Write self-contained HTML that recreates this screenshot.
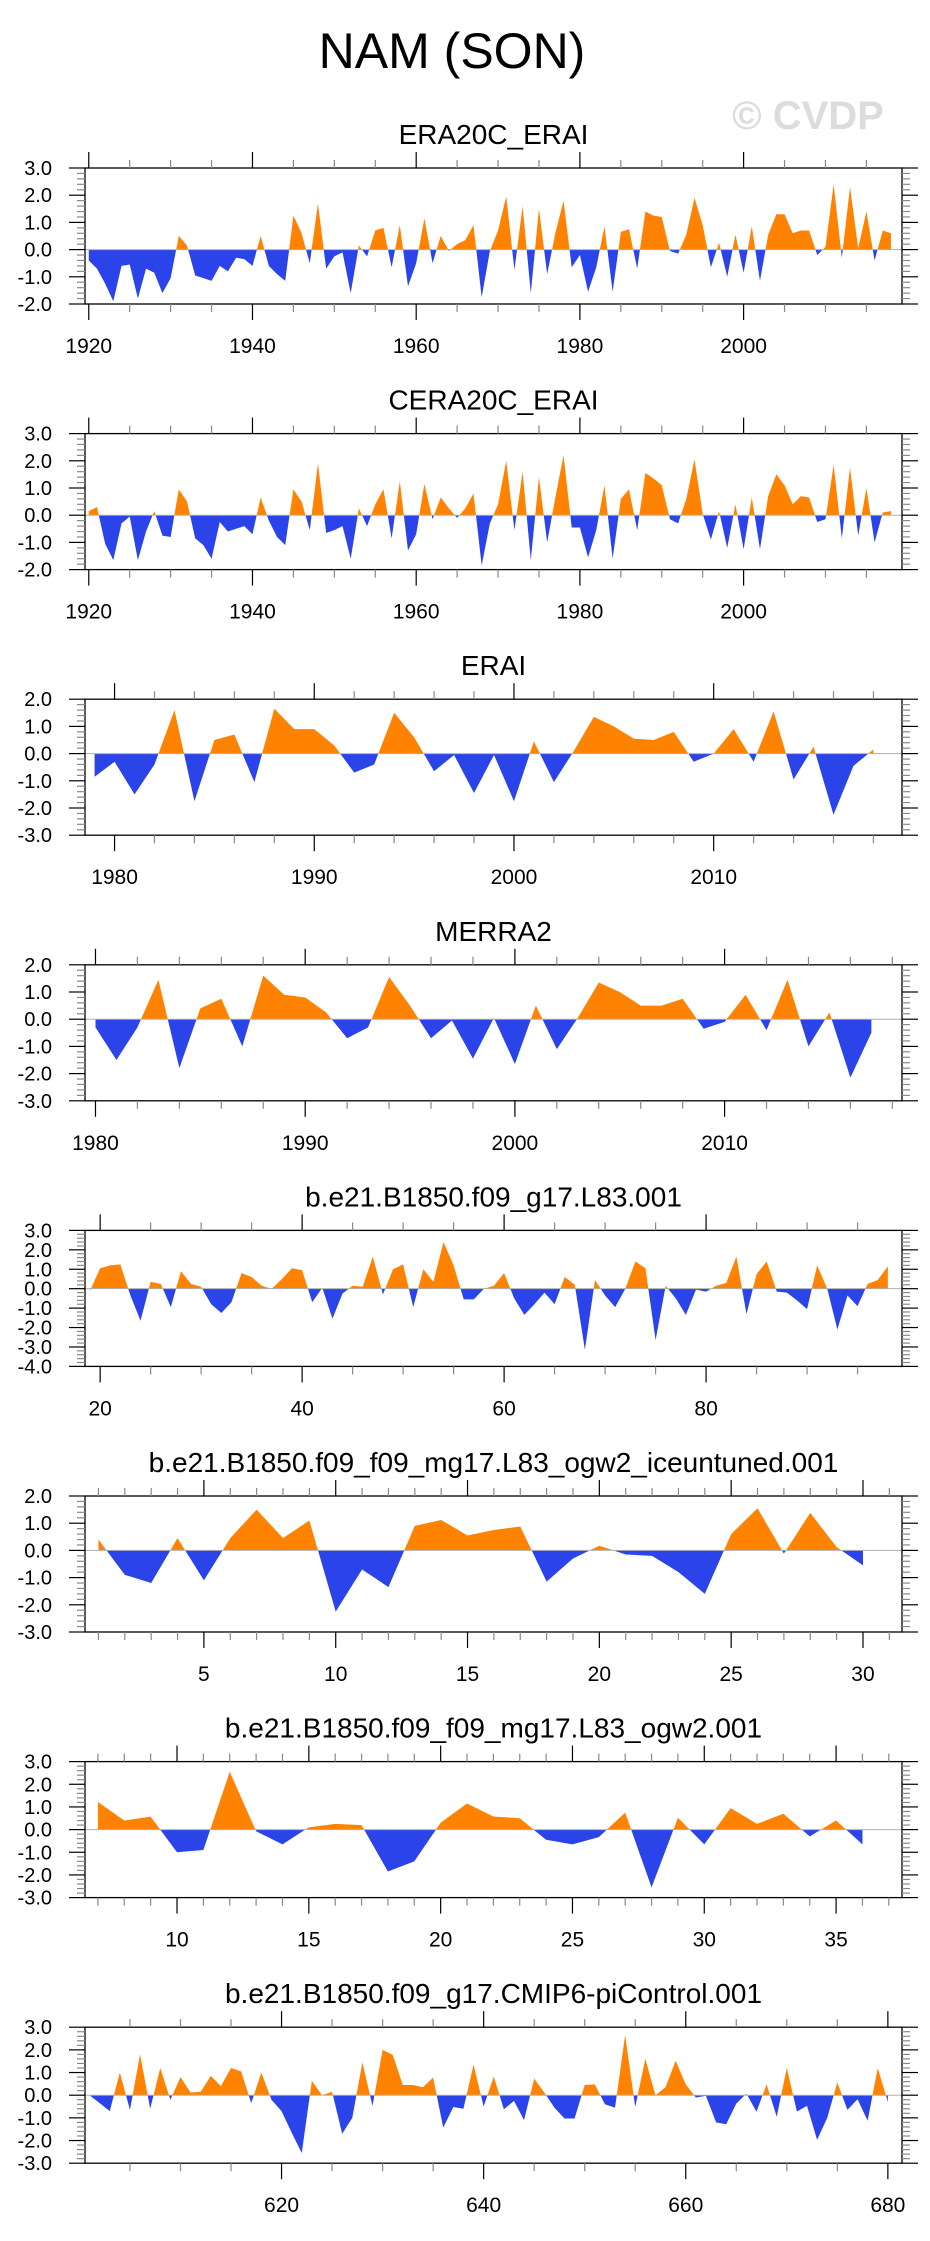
<!DOCTYPE html>
<html><head><meta charset="utf-8"><title>NAM (SON)</title>
<style>
html,body{margin:0;padding:0;background:#fff;}
svg{display:block;font-family:"Liberation Sans",Arial,sans-serif;}
</style></head>
<body>
<svg id="fig" width="930" height="2241" viewBox="0 0 930 2241" xmlns="http://www.w3.org/2000/svg">
<text x="452" y="68" font-size="50" text-anchor="middle" fill="#000">NAM (SON)</text>
<text x="808" y="129" font-size="40" font-weight="bold" text-anchor="middle" fill="#dcdcdc">© CVDP</text>
</svg>
<script>
// ---- data ----
const era20cYears = [1920, 2018];
const era20cValues = [-0.4,-0.7,-1.25,-1.9,-0.6,-0.55,-1.8,-0.7,-0.85,-1.6,-1.05,0.5,0.15,-0.95,-1.05,-1.15,-0.6,-0.8,-0.3,-0.35,-0.6,0.5,-0.6,-0.9,-1.15,1.25,0.6,-0.5,1.7,-0.7,-0.25,-0.1,-1.6,0.15,-0.25,0.7,0.8,-0.65,0.9,-1.35,-0.5,1.15,-0.5,0.5,-0.05,0.2,0.35,0.9,-1.75,-0.05,0.7,1.95,-0.75,1.6,-1.6,1.5,-0.9,0.6,1.8,-0.65,-0.2,-1.55,-0.65,0.85,-1.55,0.65,0.75,-0.7,1.4,1.25,1.2,-0.05,-0.15,0.55,1.9,0.9,-0.65,0.25,-1.0,0.55,-0.85,0.85,-1.15,0.55,1.3,1.3,0.6,0.7,0.7,-0.2,0.1,2.4,-0.3,2.3,0.05,1.4,-0.4,0.7,0.6];
const cera20cYears = [1920, 2018];
const cera20cValues = [0.15,0.3,-1.05,-1.65,-0.3,-0.05,-1.65,-0.6,0.15,-0.75,-0.8,0.95,0.5,-0.85,-1.1,-1.6,-0.25,-0.6,-0.5,-0.4,-0.7,0.65,-0.2,-0.8,-1.1,0.95,0.5,-0.55,1.9,-0.65,-0.55,-0.4,-1.6,0.25,-0.4,0.4,0.95,-0.85,1.25,-1.3,-0.7,1.15,-0.15,0.65,0.25,-0.1,0.25,0.8,-1.85,-0.3,0.4,2.0,-0.55,1.6,-1.65,1.4,-1.0,0.65,2.2,-0.45,-0.45,-1.55,-0.55,1.1,-1.6,0.6,0.95,-0.55,1.55,1.35,1.1,-0.15,-0.3,0.6,2.05,0.05,-0.9,0.15,-1.2,0.4,-1.25,0.65,-1.25,0.7,1.5,1.1,0.4,0.7,0.65,-0.25,-0.15,1.85,-0.85,1.75,-0.75,1.0,-1.0,0.1,0.15];
const eraiYears = [1979, 2018];
const eraiValues = [-0.85,-0.3,-1.5,-0.4,1.6,-1.75,0.5,0.7,-1.05,1.65,0.9,0.9,0.3,-0.7,-0.4,1.5,0.6,-0.65,-0.05,-1.45,-0.05,-1.75,0.45,-1.05,0.1,1.35,1.0,0.55,0.5,0.8,-0.3,0.0,0.9,-0.3,1.55,-0.95,0.25,-2.25,-0.45,0.15];
const merra2Years = [1980, 2017];
const merra2Values = [-0.3,-1.5,-0.3,1.45,-1.8,0.4,0.75,-1.0,1.6,0.9,0.8,0.25,-0.7,-0.3,1.55,0.5,-0.7,-0.05,-1.45,0.05,-1.65,0.5,-1.1,0.05,1.35,1.0,0.5,0.5,0.75,-0.35,-0.1,0.9,-0.4,1.45,-1.0,0.25,-2.15,-0.5];
const l83Years = [19, 98];
const l83Values = [-0.1,1.05,1.2,1.25,-0.35,-1.65,0.35,0.25,-0.95,0.9,0.25,0.1,-0.8,-1.25,-0.7,0.8,0.6,0.15,0.0,0.5,1.05,0.95,-0.7,0.05,-1.55,-0.25,0.15,0.1,1.65,-0.3,1.0,1.25,-0.95,1.0,0.35,2.4,1.2,-0.55,-0.55,0.0,0.15,0.8,-0.5,-1.35,-0.8,-0.2,-0.8,0.6,0.2,-3.15,0.45,-0.35,-0.95,0.0,1.4,1.05,-2.65,0.15,-0.5,-1.35,-0.05,-0.15,0.15,0.3,1.65,-1.3,0.75,1.4,-0.15,-0.2,-0.6,-1.05,1.2,0.0,-2.1,-0.35,-0.9,0.25,0.45,1.15];
const iceYears = [1, 30];
const iceValues = [0.4,-0.9,-1.2,0.45,-1.1,0.45,1.5,0.45,1.1,-2.25,-0.7,-1.35,0.9,1.12,0.55,0.75,0.88,-1.15,-0.3,0.17,-0.15,-0.2,-0.8,-1.6,0.6,1.55,-0.12,1.38,0.12,-0.55];
const ogwYears = [7, 36];
const ogwValues = [1.22,0.4,0.57,-1.0,-0.9,2.55,-0.07,-0.65,0.1,0.25,0.2,-1.85,-1.4,0.3,1.15,0.58,0.5,-0.45,-0.65,-0.33,0.75,-2.55,0.52,-0.65,0.95,0.25,0.7,-0.3,0.4,-0.65];
const piYears = [601, 680];
const piValues = [0,-0.35,-0.7,1.0,-0.65,1.8,-0.6,1.2,-0.2,0.8,0.12,0.15,0.85,0.4,1.2,1.05,-0.35,1.0,-0.2,-0.7,-1.65,-2.55,0.63,0.0,0.15,-1.7,-1.0,1.45,-0.47,2.0,1.78,0.45,0.45,0.35,0.78,-1.43,-0.52,-0.6,1.35,-0.5,0.82,-0.62,-0.25,-1.1,0.73,0.12,-0.55,-1.03,-1.03,0.45,0.48,-0.4,-0.55,2.65,-0.52,1.6,0.0,0.35,1.52,0.48,-0.1,-0.03,-1.2,-1.28,-0.37,0.07,-0.73,0.48,-0.95,1.2,-0.72,-0.47,-1.97,-1.0,0.56,-0.65,-0.18,-1.13,1.2,-0.3];

const panelTitles = ["ERA20C_ERAI","CERA20C_ERAI","ERAI","MERRA2","b.e21.B1850.f09_g17.L83.001","b.e21.B1850.f09_f09_mg17.L83_ogw2_iceuntuned.001","b.e21.B1850.f09_f09_mg17.L83_ogw2.001","b.e21.B1850.f09_g17.CMIP6-piControl.001"];
const yRanges = [[-2,3],[-2,3],[-3,2],[-3,2],[-4,3],[-3,2],[-3,3],[-3,3]];
const xRanges = [[1919.54,2019.35],[1919.54,2019.35],[1978.52,2019.43],[1979.5,2018.46],[18.5,99.4],[0.49,31.48],[6.51,37.5],[600.55,681.4]];
const majorTicks = [[1920,1940,1960,1980,2000],[1920,1940,1960,1980,2000],[1980,1990,2000,2010],[1980,1990,2000,2010],[20,40,60,80],[5,10,15,20,25,30],[10,15,20,25,30,35],[620,640,660,680]];
const minorSteps = [5,5,2,2,5,1,1,5];
const seriesYears = [era20cYears,cera20cYears,eraiYears,merra2Years,l83Years,iceYears,ogwYears,piYears];
const seriesValues = [era20cValues,cera20cValues,eraiValues,merra2Values,l83Values,iceValues,ogwValues,piValues];
const panelNames = ["era20c-erai","cera20c-erai","erai","merra2","l83","ogw2-iceuntuned","ogw2","cmip6-picontrol"];

const NS = "http://www.w3.org/2000/svg";
const svg = document.getElementById("fig");
const L = 85, R = 902, H = 136;
function mk(tag, attrs, parent) {
  const e = document.createElementNS(NS, tag);
  for (const k in attrs) e.setAttribute(k, attrs[k]);
  (parent || svg).appendChild(e);
  return e;
}
for (let p = 0; p < 8; p++) {
  const top = 168 + p * 265.6, bot = top + H;
  const [x0, x1] = xRanges[p], [y0, y1] = yRanges[p];
  const xs = v => L + (v - x0) / (x1 - x0) * (R - L);
  const ys = v => bot - (v - y0) / (y1 - y0) * H;
  const g = mk("g", {});
  
  
  const t = mk("text", {x: (L + R) / 2, y: top - 24, "font-size": 28, "text-anchor": "middle", fill: "#000"}, g);
  t.textContent = panelTitles[p];
  
  
  // series area
  const vals = seriesValues[p], yr0 = seriesYears[p][0];
  const zy = ys(0);
  let pts = [];
  vals.forEach((v, i) => pts.push(xs(yr0 + i).toFixed(2) + "," + ys(v).toFixed(2)));
  const xa = xs(yr0), xb = xs(yr0 + vals.length - 1);
  const poly = "M" + xa.toFixed(2) + "," + zy + " L" + pts.join(" L") + " L" + xb.toFixed(2) + "," + zy + " Z";
  const cidA = "ca" + p, cidB = "cb" + p;
  const defs = mk("defs", {}, g);
  const ca = mk("clipPath", {id: cidA}, defs);
  mk("rect", {x: L, y: top, width: R - L, height: zy - top}, ca);
  const cb = mk("clipPath", {id: cidB}, defs);
  mk("rect", {x: L, y: zy, width: R - L, height: bot - zy}, cb);
  const pa = mk("path", {d: poly, fill: "#ff8200", "clip-path": "url(#" + cidA + ")"}, g);
  
  
  const pb = mk("path", {d: poly, fill: "#2a44ea", "clip-path": "url(#" + cidB + ")"}, g);
  
  
  const zl = mk("line", {x1: L, x2: R, y1: zy, y2: zy, stroke: "#b0b0b0", "stroke-width": 1}, g);
  
  
  // frame
  const fr = mk("rect", {x: L, y: top, width: R - L, height: H, fill: "none", stroke: "#000", "stroke-width": 1.3}, g);
  
  
  // y ticks
  for (let k = Math.round(y0 * 5); k <= Math.round(y1 * 5); k++) {
    const v = k / 5, y = ys(v);
    const major = (k % 5 === 0);
    const len = major ? 16 : 8, col = major ? "#000" : "#888";
    mk("line", {x1: L - len, x2: L, y1: y, y2: y, stroke: col, "stroke-width": 1.2}, g);
    mk("line", {x1: R, x2: R + len, y1: y, y2: y, stroke: col, "stroke-width": 1.2}, g);
    if (major) {
      const lb = mk("text", {x: 52, y: y + 7, "font-size": 20, "text-anchor": "end", fill: "#000"}, g);
      lb.textContent = v.toFixed(1);
      
      
    }
  }
  // x ticks
  const ms = minorSteps[p];
  for (let v = Math.ceil(x0 / ms) * ms; v <= x1; v += ms) {
    const x = xs(v);
    const major = majorTicks[p].indexOf(v) >= 0;
    const len = major ? 16 : 8, col = major ? "#000" : "#888";
    mk("line", {x1: x, x2: x, y1: top - len, y2: top, stroke: col, "stroke-width": 1.2}, g);
    mk("line", {x1: x, x2: x, y1: bot, y2: bot + len, stroke: col, "stroke-width": 1.2}, g);
  }
  majorTicks[p].forEach(v => {
    const lb = mk("text", {x: xs(v), y: bot + 49, "font-size": 21, "text-anchor": "middle", fill: "#000"}, g);
    lb.textContent = String(v);
    
    
  });
}
</script>
</body></html>
